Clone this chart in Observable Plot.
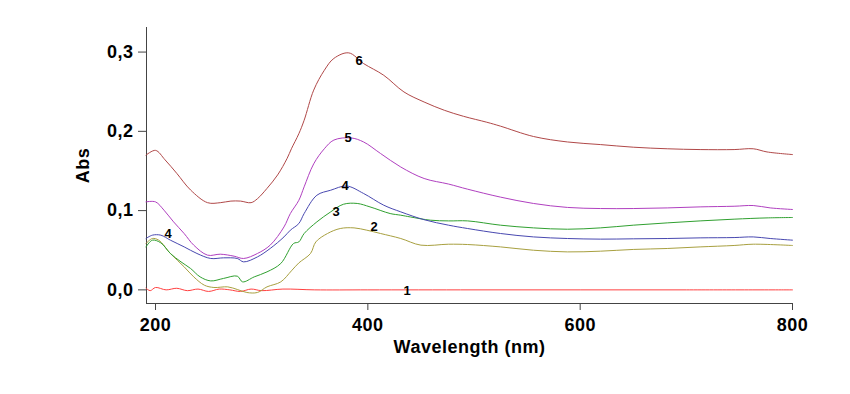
<!DOCTYPE html>
<html>
<head>
<meta charset="utf-8">
<script src="https://cdn.jsdelivr.net/npm/d3@7"></script>
<script src="https://cdn.jsdelivr.net/npm/@observablehq/plot@0.6"></script>
<style>
  html, body { margin: 0; padding: 0; background: #fff; }
  #chart svg text { letter-spacing: 0.5px; }
</style>
</head>
<body>
<div id="chart"></div>
<script>
// ---- data ----
const xTicks = [200, 400, 600, 800];
const yTicks = [0.0, 0.1, 0.2, 0.3];
const xLabel = "Wavelength (nm)";
const yLabel = "Abs";

const seriesIds = ["1", "2", "3", "4", "5", "6"];
const seriesColors = ["#ff4040", "#a8a040", "#30a030", "#4848b0", "#b040c0", "#b04848"];

const wl1 = [191, 195, 200, 210, 220, 230, 240, 250, 260, 270, 280, 290, 300, 320, 350, 400, 500, 600, 700, 800];
const abs1 = [0.002, -0.001, 0.003, 0.000, 0.002, -0.001, 0.001, -0.002, 0.001, 0.000, -0.002, 0.001, -0.001, 0.001, 0.000, 0.000, 0.000, 0.000, 0.000, 0.000];

const wl2 = [191, 197, 203, 214, 227, 236, 246, 255, 268, 277, 286, 296, 305, 318, 328, 335, 346, 351, 362, 374, 387, 399, 412, 431, 450, 476, 494, 525, 556, 588, 619, 650, 682, 713, 745, 763, 800];
const abs2 = [0.0585, 0.0648, 0.0627, 0.0459, 0.029, 0.0164, 0.0059, 0.003, 0.0038, 0.0005, -0.0033, -0.0033, 0.0038, 0.0101, 0.024, 0.034, 0.0459, 0.0605, 0.0711, 0.0774, 0.0782, 0.0753, 0.0711, 0.0648, 0.0564, 0.0576, 0.0572, 0.0542, 0.050, 0.0479, 0.0488, 0.051, 0.0522, 0.0542, 0.056, 0.0576, 0.056];

const wl3 = [191, 197, 205, 214, 224, 233, 242, 252, 264, 277, 282, 293, 305, 318, 330, 335, 340, 352, 365, 377, 390, 402, 421, 431, 440, 459, 476, 494, 525, 556, 588, 619, 650, 682, 713, 745, 776, 800];
const abs3 = [0.0542, 0.0627, 0.0593, 0.0459, 0.0353, 0.027, 0.0164, 0.0113, 0.0144, 0.0173, 0.0101, 0.0164, 0.0227, 0.0333, 0.0585, 0.0605, 0.0711, 0.0858, 0.0984, 0.108, 0.109, 0.1047, 0.0963, 0.0942, 0.092, 0.0879, 0.087, 0.087, 0.0816, 0.0782, 0.0765, 0.0782, 0.0816, 0.0845, 0.087, 0.0892, 0.0908, 0.0913];

const wl4 = [191, 197, 205, 214, 227, 239, 252, 264, 277, 283, 296, 308, 321, 327, 335, 340, 352, 365, 380, 396, 415, 431, 453, 476, 494, 525, 556, 588, 619, 650, 682, 713, 745, 763, 779, 800];
const abs4 = [0.0648, 0.069, 0.069, 0.0627, 0.0542, 0.0459, 0.0396, 0.0404, 0.0396, 0.0353, 0.0416, 0.0522, 0.0668, 0.0753, 0.0837, 0.0963, 0.1194, 0.1257, 0.131, 0.1216, 0.1068, 0.0984, 0.0885, 0.0816, 0.0774, 0.0711, 0.0668, 0.0648, 0.064, 0.0644, 0.0648, 0.0656, 0.066, 0.0668, 0.0648, 0.0627];

const wl5 = [191, 200, 208, 217, 227, 236, 249, 261, 274, 283, 296, 308, 321, 327, 335, 340, 349, 359, 368, 384, 396, 412, 431, 453, 476, 494, 525, 556, 588, 619, 650, 682, 713, 745, 763, 779, 800];
const abs5 = [0.111, 0.111, 0.1005, 0.0858, 0.071, 0.0564, 0.0438, 0.045, 0.0425, 0.0396, 0.0459, 0.0564, 0.0794, 0.0963, 0.113, 0.130, 0.159, 0.178, 0.189, 0.1917, 0.1866, 0.172, 0.155, 0.1405, 0.1335, 0.127, 0.117, 0.109, 0.104, 0.1026, 0.1026, 0.1034, 0.1047, 0.1055, 0.1064, 0.1034, 0.1014];

const wl6 = [191, 200, 209, 220, 233, 249, 261, 271, 280, 290, 296, 305, 315, 324, 328, 335, 340, 349, 359, 368, 382, 396, 415, 434, 453, 472, 490, 512, 525, 556, 588, 619, 650, 682, 713, 745, 763, 776, 800];
const abs6 = [0.170, 0.176, 0.164, 0.147, 0.126, 0.110, 0.110, 0.112, 0.112, 0.110, 0.115, 0.128, 0.145, 0.166, 0.178, 0.197, 0.214, 0.252, 0.277, 0.292, 0.299, 0.2855, 0.2707, 0.2497, 0.237, 0.2266, 0.219, 0.2115, 0.2065, 0.1935, 0.1866, 0.1833, 0.180, 0.178, 0.177, 0.177, 0.178, 0.174, 0.1707];

const labelText = ["6", "5", "4", "3", "2", "4", "1"];
const labelWl = [392, 381.7, 378.9, 370.4, 406.2, 212.2, 437.3];
const labelAbs = [0.2884, 0.1913, 0.1308, 0.098, 0.079, 0.0702, -0.0016];

// ---- build tables ----
const wls = [wl1, wl2, wl3, wl4, wl5, wl6];
const abss = [abs1, abs2, abs3, abs4, abs5, abs6];
const data = seriesIds.flatMap((id, k) => wls[k].map((w, i) => ({s: id, wl: w, abs: abss[k][i]})));
const labels = labelText.map((t, i) => ({t, wl: labelWl[i], abs: labelAbs[i]}));

const fmt = d => d.toFixed(1).replace(".", ",");

const chart = Plot.plot({
  width: 850,
  height: 394,
  marginLeft: 146,
  marginRight: 58,
  marginTop: 27,
  marginBottom: 91,
  style: {fontFamily: "'Liberation Sans', Arial, sans-serif", fontSize: "18px", fontWeight: "bold", color: "black", background: "white"},
  x: {domain: [191.5, 800]},
  y: {domain: [-0.0172, 0.331]},
  color: {domain: seriesIds, range: seriesColors},
  marks: [
    Plot.ruleX([191.5], {stroke: "#444"}),
    Plot.ruleY([-0.0172], {stroke: "#444"}),
    Plot.axisX({ticks: xTicks, tickSize: 7, tickPadding: 8, stroke: "#444", fill: "black", tickFormat: d => String(d), label: xLabel, labelAnchor: "center", labelArrow: "none", labelOffset: 49}),
    Plot.axisY({ticks: yTicks, tickSize: 8, tickPadding: 5, stroke: "#444", fill: "black", tickFormat: fmt, label: yLabel, labelAnchor: "center", labelArrow: "none", labelOffset: 70}),
    Plot.line(data, {x: "wl", y: "abs", z: "s", stroke: "s", strokeWidth: 1, curve: "catmull-rom"}),
    Plot.text(labels, {x: "wl", y: "abs", text: "t", fontSize: 13, fontWeight: "bold", fill: "black"})
  ]
});
document.getElementById("chart").appendChild(chart);
</script>
</body>
</html>
